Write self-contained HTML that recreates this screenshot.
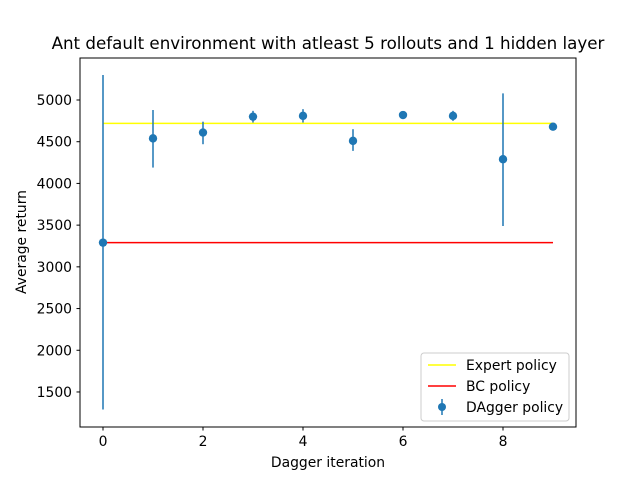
<!DOCTYPE html>
<html><head><meta charset="utf-8"><style>
body{margin:0;background:#fff}
svg text{font-family:"DejaVu Sans","Liberation Sans",sans-serif;fill:#000}
</style></head><body>
<svg id="c" width="640" height="480" xmlns="http://www.w3.org/2000/svg">
<rect width="640" height="480" fill="#fff"/>
<text x="328" y="49" font-size="16.7" text-anchor="middle">Ant default environment with atleast 5 rollouts and 1 hidden layer</text>
<g id="plot"></g>
<rect x="80" y="58" width="496" height="369" fill="none" stroke="#000" stroke-width="1"/>
<text x="328" y="467" font-size="13.9" text-anchor="middle">Dagger iteration</text>
<text transform="translate(26,242) rotate(-90)" font-size="13.9" text-anchor="middle">Average return</text>
<g>
<rect x="421" y="353" width="148" height="68" rx="3" fill="#fff" stroke="#ccc"/>
<line x1="428" y1="365" x2="456" y2="365" stroke="#ffff00" stroke-width="1.5"/>
<text x="466" y="370" font-size="13.9">Expert policy</text>
<line x1="428" y1="386" x2="456" y2="386" stroke="#ff0000" stroke-width="1.5"/>
<text x="466" y="391" font-size="13.9">BC policy</text>
<line x1="442" y1="399" x2="442" y2="415" stroke="#1f77b4" stroke-width="1.5"/>
<circle cx="442" cy="407" r="4" fill="#1f77b4"/>
<text x="466" y="412" font-size="13.9">DAgger policy</text>
</g>
</svg>
<script>
const iterations=[0,1,2,3,4,5,6,7,8,9];
const means=[3290,4540,4610,4800,4810,4510,4820,4810,4290,4680];
const errLow=[1290,4190,4470,4730,4730,4390,4790,4750,3490,4660];
const errHigh=[5300,4880,4740,4870,4890,4650,4850,4870,5080,4700];
const expertValue=4720;
const bcValue=3290;
const xTicks=[0,2,4,6,8];
const yTicks=[1500,2000,2500,3000,3500,4000,4500,5000];
const NS="http://www.w3.org/2000/svg";
const X=v=>103+v*50;
const Y=v=>100+(5000-v)*(41.71/500);
const g=document.getElementById('plot');
function mk(t,a){const e=document.createElementNS(NS,t);for(const k in a)e.setAttribute(k,a[k]);g.appendChild(e);return e;}
xTicks.forEach(t=>{
 const l=mk('line',{x1:X(t),x2:X(t),y1:427,y2:430.5,stroke:'#000'});
 
 
 const s=mk('text',{x:X(t),y:446,'font-size':13.9,'text-anchor':'middle'});s.textContent=t;
 
 
});
yTicks.forEach(t=>{
 const l=mk('line',{x1:76.5,x2:80,y1:Y(t),y2:Y(t),stroke:'#000'});
 
 
 const s=mk('text',{x:72,y:Y(t)+5,'font-size':13.9,'text-anchor':'end'});s.textContent=t;
 
 
});
const x0=iterations[0],x1=iterations[iterations.length-1];
const ex=mk('line',{x1:X(x0),x2:X(x1),y1:Y(expertValue),y2:Y(expertValue),stroke:'#ffff00','stroke-width':1.5});


const bc=mk('line',{x1:X(x0),x2:X(x1),y1:Y(bcValue),y2:Y(bcValue),stroke:'#ff0000','stroke-width':1.5});


iterations.forEach((it,i)=>{
 const e=mk('line',{x1:X(it),x2:X(it),y1:Y(errLow[i]),y2:Y(errHigh[i]),stroke:'#1f77b4','stroke-width':1.5});
 
 
 const c=mk('circle',{cx:X(it),cy:Y(means[i]),r:4.2,fill:'#1f77b4'});
 
 
});
</script>
</body></html>
